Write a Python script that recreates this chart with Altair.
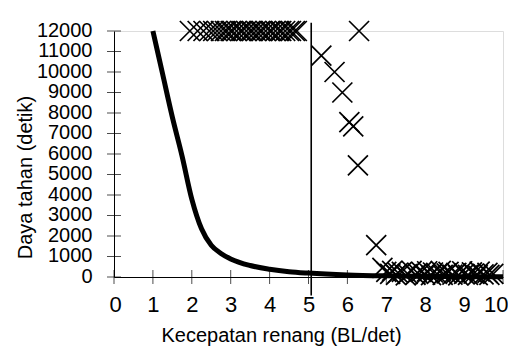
import altair as alt
import pandas as pd

# Fitted curve
curve_x = [1.0, 1.25, 1.5, 1.75, 2.0, 2.25, 2.5, 2.75, 3.0, 3.5, 4.0, 4.5, 5.0, 6.0, 7.0, 8.0, 9.0, 10.0]
curve_y = [12000, 9900, 7800, 5900, 3800, 2350, 1550, 1150, 880, 560, 380, 260, 190, 100, 55, 30, 18, 10]

# Observations: capped at 12000
top_x = [1.95, 2.15, 2.3, 2.45, 2.55, 2.65, 2.75, 2.85, 2.9, 3.0, 3.05, 3.15, 3.25, 3.3, 3.4,
         3.5, 3.55, 3.65, 3.75, 3.8, 3.9, 4.0, 4.05, 4.15, 4.25, 4.3, 4.4, 4.5, 4.55, 4.65, 4.7]
top_y = [12000] * len(top_x)

# Observations: intermediate
mid_x = [5.33, 5.67, 5.87, 6.05, 6.15, 6.27, 6.3, 6.74]
mid_y = [10800, 10000, 9000, 7550, 7350, 5450, 12000, 1550]

# Observations: near zero
bot_x = [6.9, 7.0, 7.1, 7.15, 7.25, 7.3, 7.4, 7.5, 7.55, 7.65, 7.75, 7.8, 7.9, 8.0, 8.05, 8.15, 8.2, 8.3,
         8.4, 8.45, 8.55, 8.6, 8.7, 8.8, 8.85, 8.95, 9.0, 9.1, 9.2, 9.25, 9.35, 9.4, 9.5, 9.6, 9.65, 9.75]
bot_y = [450, 250, 150, 300, 100, 200, 250, 80, 150, 300, 100, 200, 250, 120, 280, 90, 220, 150,
         300, 100, 180, 250, 120, 200, 80, 280, 150, 100, 230, 170, 90, 260, 130, 200, 100, 150]

# Threshold line
thr_x = [5.07]
thr_y = [12400]
thr_y2 = [-900]

x_ticks = list(range(0, 11))
y_ticks = list(range(0, 12001, 1000))

FONT = "Liberation Sans"

curve_df = pd.DataFrame({"x": curve_x, "y": curve_y})
pts_df = pd.DataFrame({"x": top_x + mid_x + bot_x, "y": top_y + mid_y + bot_y})
thr_df = pd.DataFrame({"x": thr_x, "y": thr_y, "y2": thr_y2})
xt_df = pd.DataFrame({"x": x_ticks, "y": [0] * len(x_ticks)})
yt_df = pd.DataFrame({"x": [0] * len(y_ticks), "y": y_ticks})

xscale = alt.Scale(domain=[0, 10], nice=False, zero=False)
yscale = alt.Scale(domain=[0, 12000], nice=False, zero=False)

xaxis = alt.Axis(values=x_ticks, format="d", ticks=False, tickSize=0, grid=False,
                 labelFont=FONT, labelFontSize=22, labelPadding=17, labelColor="black",
                 labelFlush=True, labelFlushOffset=5, labelOverlap=False,
                 domainColor="black", domainWidth=1,
                 titleFont=FONT, titleFontSize=20, titleFontWeight="normal", titleColor="black",
                 titleX=167, titleY=48, titleAnchor="middle")
yaxis = alt.Axis(values=y_ticks, format="d", ticks=False, tickSize=0, grid=False,
                 labelFont=FONT, labelFontSize=20, labelPadding=22, labelColor="black",
                 labelFlush=False, labelOverlap=False, labelOffset=-1,
                 domainColor="black", domainWidth=1,
                 titleFont=FONT, titleFontSize=20, titleFontWeight="normal", titleColor="black",
                 titleX=-79, titleY=146, titleAnchor="middle")

X = alt.X("x:Q", scale=xscale, axis=xaxis, title="Kecepatan renang (BL/det)")
Y = alt.Y("y:Q", scale=yscale, axis=yaxis, title="Daya tahan (detik)")

curve = alt.Chart(curve_df).mark_line(color="black", strokeWidth=5, interpolate="monotone").encode(x=X, y=Y)

cross_path = "M-1,-1L1,1M1,-1L-1,1"
pts = alt.Chart(pts_df).mark_point(shape=cross_path, size=400, filled=False, stroke="black",
                                   strokeWidth=1.7, opacity=1).encode(x=X, y=Y)

thr = alt.Chart(thr_df).mark_rule(color="black", strokeWidth=1.6).encode(x=X, y=Y, y2="y2:Q")

xt = alt.Chart(xt_df).mark_tick(orient="vertical", size=14, thickness=1, color="black").encode(x=X, y=Y)
yt = alt.Chart(yt_df).mark_tick(orient="horizontal", size=14, thickness=1, color="black").encode(x=X, y=Y)

chart = alt.layer(xt, yt, pts, curve, thr).properties(
    width=389, height=246,
    autosize=alt.AutoSizeParams(type="none"),
    padding={"left": 106, "top": 23, "right": 5, "bottom": 70},
).configure_view(stroke=None).configure(background="white")

chart.save("out.html", embed_options={"renderer": "svg", "actions": False})
